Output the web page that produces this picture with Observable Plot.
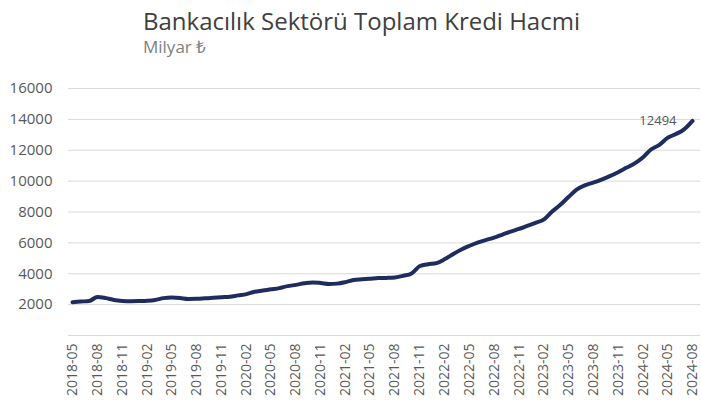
<!DOCTYPE html>
<html>
<head>
<meta charset="utf-8">
<script src="https://cdn.jsdelivr.net/npm/d3@7"></script>
<script src="https://cdn.jsdelivr.net/npm/@observablehq/plot@0.6"></script>
<style>
  html, body { margin: 0; padding: 0; background: #fff; }
  body { width: 701px; height: 411px; overflow: hidden; font-family: "Open Sans", sans-serif; }
  #head { height: 70px; position: relative; }
  #title { position: absolute; left: 143px; top: 4px; font-size: 24px; color: #404040; white-space: nowrap; line-height: normal; }
  #subtitle { position: absolute; left: 143px; top: 35px; font-size: 17px; color: #808080; white-space: nowrap; line-height: normal; }
</style>
</head>
<body>
<div id="head">
  <div id="title">Bankacılık Sektörü Toplam Kredi Hacmi</div>
  <div id="subtitle">Milyar ₺</div>
</div>
<div id="chart"></div>
<script>
const months = [
  "2018-05","2018-06","2018-07","2018-08","2018-09","2018-10","2018-11","2018-12",
  "2019-01","2019-02","2019-03","2019-04","2019-05","2019-06","2019-07","2019-08","2019-09","2019-10","2019-11","2019-12",
  "2020-01","2020-02","2020-03","2020-04","2020-05","2020-06","2020-07","2020-08","2020-09","2020-10","2020-11","2020-12",
  "2021-01","2021-02","2021-03","2021-04","2021-05","2021-06","2021-07","2021-08","2021-09","2021-10","2021-11","2021-12",
  "2022-01","2022-02","2022-03","2022-04","2022-05","2022-06","2022-07","2022-08","2022-09","2022-10","2022-11","2022-12",
  "2023-01","2023-02","2023-03","2023-04","2023-05","2023-06","2023-07","2023-08","2023-09","2023-10","2023-11","2023-12",
  "2024-01","2024-02","2024-03","2024-04","2024-05","2024-06","2024-07","2024-08"
];
const creditVolume = [
  2150,2200,2230,2500,2420,2300,2240,2220,
  2230,2250,2300,2420,2460,2430,2370,2380,2410,2440,2480,2510,
  2600,2680,2830,2910,2990,3070,3200,3280,3380,3440,3400,3340,
  3360,3460,3590,3640,3680,3720,3730,3760,3870,4020,4500,4620,
  4690,4950,5250,5560,5800,6020,6180,6340,6540,6730,6900,7100,
  7300,7520,8000,8450,8950,9450,9720,9900,10100,10320,10580,10860,
  11150,11550,12050,12350,12800,13050,13350,13900
];
const yTicks = [2000,4000,6000,8000,10000,12000,14000,16000];
const gridValues = [0,2000,4000,6000,8000,10000,12000,14000,16000];
const xTickLabels = months.filter((m, i) => i % 3 === 0);
const annotationLabel = ["12494"];

const parse = d3.utcParse("%Y-%m");
const data = months.map((m, i) => ({date: parse(m), value: creditVolume[i]}));
const last = data[data.length - 1];
const annot = [{date: last.date, value: last.value, label: annotationLabel[0]}];

const chart = Plot.plot({
  width: 701,
  height: 341,
  marginTop: 18,
  marginBottom: 76,
  marginLeft: 68,
  marginRight: 1,
  style: {fontFamily: "Open Sans, sans-serif", color: "#595959", background: "#fff"},
  x: {
    type: "utc",
    domain: [data[0].date, last.date],
    insetLeft: 4,
    insetRight: 8,
    label: null
  },
  y: {
    domain: [0, 16000],
    label: null
  },
  marks: [
    Plot.ruleY(gridValues, {stroke: "#d9d9d9", strokeWidth: 1}),
    Plot.axisY({ticks: yTicks, tickSize: 0, tickPadding: 16, tickFormat: d => String(d), fontSize: 15, label: null}),
    Plot.axisX({ticks: xTickLabels.map(parse), tickFormat: d3.utcFormat("%Y-%m"), tickRotate: -90, tickSize: 0, tickPadding: 8, fontSize: 14, label: null}),
    Plot.line(data, {x: "date", y: "value", stroke: "#1f2d5e", strokeWidth: 4, curve: "monotone-x"}),
    Plot.text(annot, {x: "date", y: "value", text: "label", textAnchor: "end", dx: -16, fontSize: 13, fill: "#595959"})
  ]
});
document.getElementById("chart").appendChild(chart);
</script>
</body>
</html>
